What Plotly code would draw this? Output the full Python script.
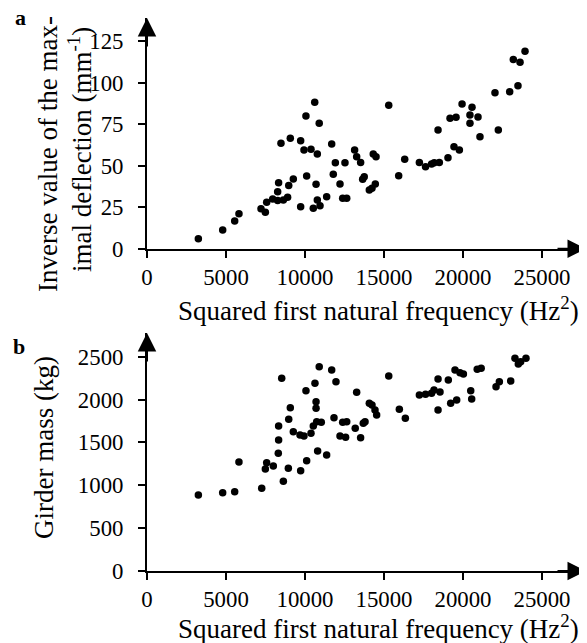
import plotly.graph_objects as go

# Panel a: squared first natural frequency (Hz^2) vs inverse max deflection (1/mm)
freq_a = [3250, 4790, 5550, 5820, 7215, 7490, 7575, 7955, 8270, 8270, 8330, 8480, 8630, 8900, 8970,
          9070, 9260, 9725, 9725, 9935, 10060, 10105, 10380, 10525, 10615, 10700, 10780, 10780, 10900,
          10950, 11370, 11690, 11790, 11920, 12215, 12385, 12640, 12530, 13140, 13270, 13520, 13650,
          13750, 14070, 14240, 14450, 14320, 14495, 15300, 15930, 16310, 17240, 17630, 18010, 18180,
          18500, 18420, 19050, 19180, 19560, 19430, 19770, 19940, 20440, 20440, 20570, 20950, 21075,
          22025, 22235, 22955, 23185, 23480, 23610, 23925]
inv_defl = [6, 11.3, 16.7, 21, 24, 22, 28, 30, 29, 34.3, 39.8, 63.5, 29.3, 31, 38,
            66.5, 42, 65, 25.3, 59.5, 80, 43.8, 59.9, 24.3, 88.2, 38.8, 57, 29.3, 75.5,
            25.9, 31.3, 63, 44.8, 51.8, 39, 30.4, 30.4, 51.8, 59.5, 55.4, 52, 41.8,
            43.4, 35.4, 36.4, 39, 57, 55.4, 86.4, 44, 53.9, 52, 49.4, 51, 51.8,
            52, 71.5, 54.8, 78.6, 79.2, 61.4, 59.5, 87.2, 80.5, 75.5, 85.2, 79.3, 67.5,
            94, 71.5, 94.6, 114, 98.2, 112.3, 119]

# Panel b: squared first natural frequency (Hz^2) vs girder mass (kg)
freq_b = [3250, 4790, 5550, 5820, 7260, 7490, 7575, 7995, 8310, 8330, 8330, 8525, 8630, 8970, 9070,
          8945, 9260, 9685, 9725, 9935, 10105, 10060, 10380, 10525, 10630, 10700, 10700, 10740, 10800,
          10900, 11030, 11370, 11690, 11835, 11960, 12215, 12385, 12570, 12640, 13270, 13180, 13520,
          13690, 13800, 14070, 14240, 14430, 14535, 15300, 15970, 16350, 17240, 17630, 18010, 18165,
          18545, 18420, 18420, 19070, 19220, 19600, 19495, 19810, 20025, 20490, 20550, 20900, 21150,
          22090, 22300, 23020, 23290, 23500, 23650, 23985]
mass = [887, 914, 925, 1272, 965, 1190, 1264, 1225, 1373, 1528, 1692, 2248, 1046, 1770, 1905,
        1198, 1625, 1587, 1170, 1575, 1287, 2103, 1606, 1692, 2190, 1975, 1898, 1742, 1400,
        2383, 1735, 1353, 2345, 1788, 2208, 1575, 1735, 1560, 1742, 2085, 1665, 1555,
        1723, 1742, 1956, 1937, 1878, 1820, 2275, 1886, 1781, 2053, 2061, 2073, 2112,
        2088, 2240, 1878, 2228, 1956, 1995, 2345, 2313, 2298, 2103, 2006, 2355, 2365,
        2150, 2208, 2216, 2481, 2415, 2442, 2481]

x_ticks = [0, 5000, 10000, 15000, 20000, 25000]
x_ticktext = ["0", "5000", "10000", "15000", "20000", "25000"]
ya_ticks = [0, 25, 50, 75, 100, 125]
ya_ticktext = ["0", "25", "50", "75", "100", "125"]
yb_ticks = [0, 500, 1000, 1500, 2000, 2500]
yb_ticktext = ["0", "500", "1000", "1500", "2000", "2500"]

# the page puts the figure 8 px in from the top-left corner of the window
OFF = 8
W, H = 587 - OFF, 643 - OFF
FONT = "Liberation Serif"
FS = 22.8
TFS = 27

def px_x(p):
    return (p - OFF) / W

def px_y(p):
    return 1 - (p - OFF) / H

fig = go.Figure()
mk = dict(color="black", size=7.5)
fig.add_trace(go.Scatter(x=freq_a, y=inv_defl, mode="markers", marker=mk, xaxis="x", yaxis="y",
                         cliponaxis=False, showlegend=False))
fig.add_trace(go.Scatter(x=freq_b, y=mass, mode="markers", marker=mk, xaxis="x2", yaxis="y2",
                         cliponaxis=False, showlegend=False))

XMAX = (586 - 147) / 79.0 * 5000
YA_MAX = (248.7 - 18) / 1.66
YB_MAX = (571 - 333) / 0.08572

axis_common = dict(showline=True, linecolor="black", linewidth=2, ticks="outside", ticklen=7,
                   tickwidth=2, tickcolor="black", showgrid=False, zeroline=False, automargin=False,
                   tickfont=dict(family=FONT, size=FS, color="black"))

fig.update_layout(
    width=W, height=H, margin=dict(l=0, r=0, t=0, b=0, autoexpand=False),
    paper_bgcolor="white", plot_bgcolor="white",
    xaxis=dict(domain=[px_x(147), px_x(586)], range=[0, XMAX], tickvals=x_ticks, ticktext=x_ticktext,
               anchor="y", ticklabelstandoff=0, **axis_common),
    yaxis=dict(domain=[px_y(248.7), px_y(18)], range=[0, YA_MAX], tickvals=ya_ticks,
               ticktext=ya_ticktext, anchor="x", ticklabelstandoff=10, **axis_common),
    xaxis2=dict(domain=[px_x(147), px_x(586)], range=[0, XMAX], tickvals=x_ticks, ticktext=x_ticktext,
                anchor="y2", ticklabelstandoff=0, **axis_common),
    yaxis2=dict(domain=[px_y(571), px_y(333)], range=[0, YB_MAX], tickvals=yb_ticks,
                ticktext=yb_ticktext, anchor="x2", ticklabelstandoff=10, **axis_common),
)

arrow = dict(text="", showarrow=True, arrowhead=2, arrowsize=1.85, arrowwidth=2, arrowcolor="black")
fig.add_annotation(x=0, y=YA_MAX, xref="x", yref="y", ax=0, ay=30, **arrow)
fig.add_annotation(x=XMAX, y=0, xref="x", yref="y", ax=-30, ay=0, **arrow)
fig.add_annotation(x=0, y=YB_MAX, xref="x2", yref="y2", ax=0, ay=30, **arrow)
fig.add_annotation(x=XMAX, y=0, xref="x2", yref="y2", ax=-30, ay=0, **arrow)

tfont = dict(family=FONT, size=TFS, color="black")
xt = "Squared first natural frequency (Hz<sup>2</sup>)"
fig.add_annotation(text=xt, x=px_x(378), y=px_y(309), xref="paper", yref="paper",
                   showarrow=False, font=tfont, xanchor="center", yanchor="middle")
fig.add_annotation(text=xt, x=px_x(378), y=px_y(627), xref="paper", yref="paper",
                   showarrow=False, font=tfont, xanchor="center", yanchor="middle")
fig.add_annotation(text="Inverse value of the max-",
                   x=px_x(48), y=px_y(154), xref="paper", yref="paper", textangle=-90,
                   showarrow=False, font=tfont, xanchor="center", yanchor="middle")
fig.add_annotation(text="imal deflection (mm<sup>-1</sup>)",
                   x=px_x(80), y=px_y(150), xref="paper", yref="paper", textangle=-90,
                   showarrow=False, font=tfont, xanchor="center", yanchor="middle")
fig.add_annotation(text="Girder mass (kg)", x=px_x(44), y=px_y(448), xref="paper", yref="paper",
                   textangle=-90, showarrow=False, font=tfont, xanchor="center", yanchor="middle")

lfont = dict(family=FONT, size=22, color="black")
fig.add_annotation(text="<b>a</b>", x=px_x(20), y=px_y(17), xref="paper", yref="paper",
                   showarrow=False, font=lfont, xanchor="center", yanchor="middle")
fig.add_annotation(text="<b>b</b>", x=px_x(19), y=px_y(346), xref="paper", yref="paper",
                   showarrow=False, font=lfont, xanchor="center", yanchor="middle")

fig.write_html("out.html")
